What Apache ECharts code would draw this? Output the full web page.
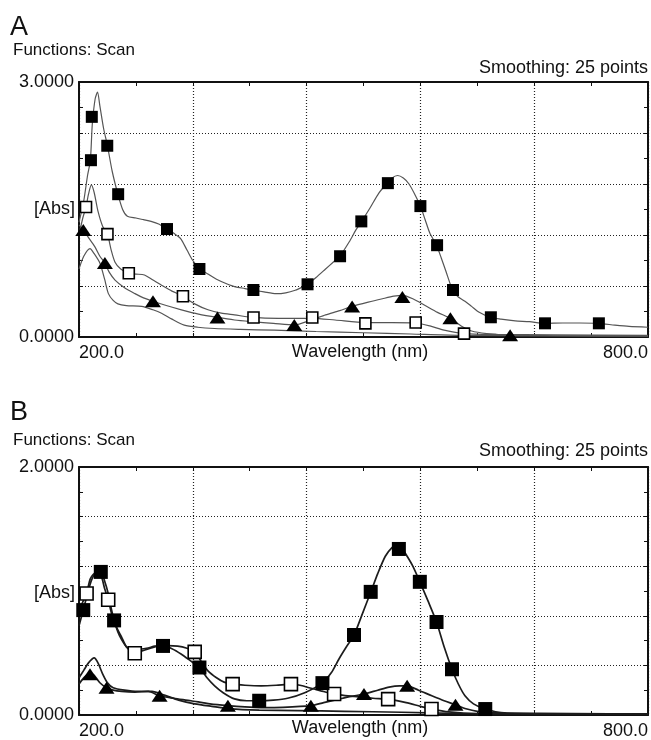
<!DOCTYPE html>
<html>
<head>
<meta charset="utf-8">
<script src="https://cdn.jsdelivr.net/npm/echarts@6/dist/echarts.min.js"></script>
<style>
  html, body { margin: 0; padding: 0; background: #fff; }
  #chart { width: 651px; height: 740px; }
</style>
</head>
<body>
<div id="chart"></div>
<script>
// Panel A: [wavelength nm, absorbance]
const aFilledCurve = [[200,1.35],[205,1.6],[209,1.9],[212,2.08],[214,2.5],[217,2.8],[219.5,2.88],[222,2.72],[226,2.45],[230,2.25],[235,1.95],[241,1.68],[246,1.5],[251,1.42],[260,1.4],[268,1.38],[276,1.36],[284,1.33],[293,1.27],[300,1.22],[307,1.16],[314,1.02],[320,0.9],[327,0.81],[336,0.74],[345,0.68],[355,0.63],[365,0.59],[375,0.57],[384,0.55],[395,0.53],[408,0.51],[418,0.52],[428,0.55],[436,0.59],[441,0.62],[450,0.7],[460,0.8],[468,0.88],[475,0.95],[485,1.12],[492,1.26],[498,1.36],[507,1.52],[516,1.69],[524,1.8],[530,1.87],[536,1.9],[542,1.87],[548,1.8],[554,1.68],[560,1.54],[565,1.38],[570,1.22],[577,1.08],[582,0.93],[587,0.77],[594,0.55],[600,0.47],[607,0.42],[614,0.36],[622,0.29],[634,0.23],[645,0.21],[660,0.19],[675,0.18],[691,0.16],[710,0.165],[728,0.165],[748,0.16],[765,0.14],[780,0.125],[800,0.115]];
const aFilledMarks = [[212.6,2.08],[213.5,2.59],[229.8,2.25],[241.3,1.68],[292.8,1.27],[327,0.8],[383.9,0.553],[441,0.62],[475.3,0.95],[497.7,1.36],[525.7,1.81],[560,1.54],[577.6,1.08],[594.4,0.553],[634.3,0.232],[691.4,0.161],[748.2,0.161]];

const aOpenCurve = [[200,1.2],[204,1.4],[207.4,1.53],[210,1.68],[213,1.79],[216,1.7],[220,1.48],[225,1.3],[230,1.21],[234,1.02],[238,0.88],[244,0.8],[252.5,0.75],[260,0.74],[269,0.73],[278,0.67],[287,0.61],[298,0.54],[309.6,0.48],[322,0.39],[336,0.32],[350,0.28],[364,0.26],[384,0.23],[410,0.22],[446,0.22],[470,0.2],[502,0.17],[530,0.17],[555,0.165],[570,0.13],[585,0.08],[606,0.04],[640,0.03],[700,0.025],[800,0.02]];
const aOpenMarks = [[207.4,1.53],[230,1.21],[252.5,0.75],[309.6,0.48],[384,0.23],[446,0.23],[502,0.16],[555,0.17],[606,0.04]];

const aTriCurve = [[200,1.32],[204.5,1.26],[210,1.17],[216.8,1.06],[222,0.95],[227.3,0.87],[232,0.76],[238,0.67],[248,0.58],[259,0.51],[268,0.46],[278,0.42],[292,0.37],[308,0.32],[326,0.27],[346,0.23],[364,0.2],[383,0.18],[405,0.16],[427,0.14],[445,0.2],[460,0.26],[475,0.31],[488,0.36],[505,0.41],[520,0.45],[532,0.48],[541,0.49],[552,0.45],[565,0.37],[578,0.29],[591.6,0.22],[603,0.13],[614,0.07],[630,0.04],[655,0.02],[700,0.015],[800,0.01]];
const aTriMarks = [[204.5,1.26],[227.3,0.87],[278,0.42],[346,0.23],[427,0.14],[488,0.36],[541,0.47],[591.6,0.22],[654.6,0.02]];

const aBaseCurve = [[200,0.8],[205,0.95],[211.6,1.04],[216,0.98],[222,0.87],[227,0.68],[231,0.51],[236,0.43],[241,0.39],[250,0.37],[266,0.36],[278,0.32],[287,0.28],[298,0.21],[311,0.14],[325,0.115],[343,0.1],[370,0.09],[406,0.08],[450,0.065],[500,0.05],[550,0.035],[600,0.02],[700,0.012],[800,0.01]];

// Panel B
const bFilledCurve = [[200,0.72],[204.5,0.846],[209,0.98],[213.3,1.09],[218,1.15],[223,1.16],[227,1.08],[230.8,0.98],[234,0.86],[237,0.763],[241,0.67],[244.8,0.61],[250,0.55],[257,0.517],[265,0.53],[272.8,0.54],[280,0.555],[288.6,0.557],[298,0.535],[308,0.49],[317,0.44],[327,0.383],[335,0.3],[343,0.235],[352,0.18],[364,0.13],[377,0.115],[390,0.115],[405,0.12],[420,0.135],[438,0.18],[456,0.255],[466,0.34],[474,0.45],[482,0.55],[490,0.645],[499,0.82],[507.6,0.99],[515,1.14],[523,1.28],[530,1.35],[535,1.37],[540,1.35],[546,1.28],[552,1.2],[559.4,1.074],[568,0.92],[577,0.75],[585,0.55],[593.3,0.369],[600,0.25],[607,0.155],[616,0.09],[628.4,0.048],[645,0.02],[680,0.01],[800,0.008]];
const bFilledMarks = [[204.5,0.846],[223,1.154],[237,0.763],[288.6,0.557],[327,0.383],[390,0.115],[456.7,0.257],[490,0.645],[507.6,0.993],[537.3,1.339],[559.4,1.074],[577,0.75],[593.3,0.369],[628.4,0.048]];

const bOpenCurve = [[200,0.85],[208,0.98],[212,1.1],[218,1.15],[223,1.13],[227,1.02],[230.8,0.93],[235,0.8],[240,0.7],[244.8,0.63],[250,0.55],[258.8,0.5],[268,0.52],[276,0.54],[283,0.555],[294,0.56],[304,0.555],[313,0.54],[322,0.509],[329,0.43],[336,0.356],[345,0.3],[353,0.265],[362,0.249],[375,0.24],[392,0.235],[408,0.24],[423.5,0.249],[433,0.24],[442.7,0.22],[455,0.195],[469,0.169],[490,0.15],[510,0.135],[526,0.128],[545,0.1],[560,0.07],[571.7,0.048],[590,0.025],[620,0.012],[800,0.008]];
const bOpenMarks = [[208,0.98],[230.8,0.93],[258.8,0.498],[322,0.509],[362,0.249],[423.5,0.249],[469,0.169],[526,0.128],[571.7,0.048]];

const bTriCurve = [[200,0.25],[205,0.3],[211.6,0.34],[216,0.32],[222,0.26],[229,0.22],[236,0.2],[245,0.19],[259,0.185],[273,0.19],[285,0.155],[300,0.135],[318,0.115],[338,0.09],[357,0.075],[375,0.065],[392,0.06],[415,0.062],[444.5,0.075],[458,0.1],[474,0.128],[487,0.15],[500.5,0.169],[515,0.2],[527,0.225],[538,0.235],[546,0.235],[558,0.2],[572,0.155],[585,0.115],[597,0.083],[608,0.05],[620,0.03],[650,0.015],[800,0.008]];
const bTriMarks = [[211.6,0.329],[229,0.22],[285,0.155],[357,0.075],[444.5,0.075],[500.5,0.169],[546,0.235],[597,0.083]];

const bBaseCurve = [[200,0.3],[205,0.36],[210,0.42],[216,0.46],[220,0.42],[225,0.33],[230,0.26],[236,0.22],[248,0.2],[262,0.19],[277,0.19],[290,0.16],[305,0.12],[322,0.09],[340,0.07],[360,0.05],[390,0.04],[430,0.035],[480,0.03],[540,0.022],[600,0.012],[700,0.008],[800,0.006]];

// axis ranges and tick labels
const xRange = [200, 800];
const xStep = 120;
const yMaxA = 3;
const yMaxB = 2;
const xEndLabels = ["200.0", "800.0"];

const FONT = "Liberation Sans";
const INK = "#111";

const chart = echarts.init(document.getElementById("chart"), null, { renderer: "canvas" });

function xAxisFor(gridIndex, bottom) {
    return {
        type: "value",
        gridIndex: gridIndex,
        position: bottom ? "bottom" : "top",
        min: xRange[0],
        max: xRange[1],
        interval: xStep,
        axisLine: { show: true, onZero: false, lineStyle: { color: INK, width: 2 } },
        axisTick: { show: true, inside: true, length: 4, lineStyle: { color: INK } },
        minorTick: { show: true, splitNumber: 2, length: 4, lineStyle: { color: INK } },
        axisLabel: {
            show: bottom,
            fontFamily: FONT,
            fontSize: 18,
            color: INK,
            margin: 7,
            alignMinLabel: "left",
            alignMaxLabel: "right",
            formatter: function (v) {
                if (v === xRange[0]) return xEndLabels[0];
                if (v === xRange[1]) return xEndLabels[1];
                return "";
            }
        },
        splitLine: {
            show: bottom,
            lineStyle: { color: "#222", width: 1.2, type: [1, 2] }
        }
    };
}

function yAxisFor(gridIndex, max, left) {
    return {
        type: "value",
        gridIndex: gridIndex,
        position: left ? "left" : "right",
        min: 0,
        max: max,
        interval: max / 5,
        axisLine: { show: true, onZero: false, lineStyle: { color: INK, width: 2 } },
        axisTick: { show: true, inside: true, length: 4, lineStyle: { color: INK } },
        minorTick: { show: true, splitNumber: 2, length: 4, lineStyle: { color: INK } },
        axisLabel: {
            show: left,
            fontFamily: FONT,
            fontSize: 18,
            color: INK,
            margin: 5,
            formatter: function (v) {
                if (Math.abs(v) < 1e-9 || Math.abs(v - max) < 1e-9) return v.toFixed(4);
                return "";
            }
        },
        splitLine: {
            show: left,
            lineStyle: { color: "#222", width: 1.2, type: [1, 2] }
        }
    };
}

function curve(data, axis, color, width) {
    return {
        type: "line",
        data: data,
        xAxisIndex: axis,
        yAxisIndex: axis,
        showSymbol: false,
        smooth: 0.25,
        lineStyle: { color: color, width: width },
        silent: true,
        z: 2
    };
}

function marks(data, axis, kind, size) {
    const base = {
        type: "scatter",
        data: data,
        xAxisIndex: axis,
        yAxisIndex: axis,
        silent: true,
        z: 5
    };
    if (kind === "filled") {
        base.symbol = "rect";
        base.symbolSize = size;
        base.itemStyle = { color: "#000", borderColor: "#000", borderWidth: 0, opacity: 1 };
    } else if (kind === "open") {
        base.symbol = "rect";
        base.symbolSize = size - 1;
        base.itemStyle = { color: "#fff", borderColor: "#000", borderWidth: 1.6, opacity: 1 };
    } else {
        base.symbol = "triangle";
        base.symbolSize = [size + 4, size];
        base.itemStyle = { color: "#000", opacity: 1 };
    }
    return base;
}

function text(str, x, y, size, align, vAlign) {
    return {
        type: "text",
        x: x,
        y: y,
        silent: true,
        style: {
            text: str,
            fontFamily: FONT,
            fontSize: size,
            fill: INK,
            align: align || "left",
            verticalAlign: vAlign || "top"
        }
    };
}

const lineA = "#555";
const lineB = "#1c1c1c";

const option = {
    animation: false,
    backgroundColor: "#fff",
    grid: [
        { left: 79, top: 82, width: 571, height: 255 },
        { left: 79, top: 467, width: 571, height: 249 }
    ],
    xAxis: [
        xAxisFor(0, true),
        xAxisFor(1, true),
        xAxisFor(0, false),
        xAxisFor(1, false)
    ],
    yAxis: [
        yAxisFor(0, yMaxA, true),
        yAxisFor(1, yMaxB, true),
        yAxisFor(0, yMaxA, false),
        yAxisFor(1, yMaxB, false)
    ],
    graphic: [
        text("A", 10, 14, 27),
        text("Functions: Scan", 13, 42, 17),
        text("Smoothing: 25 points", 648, 59, 18, "right"),
        text("[Abs]", 75, 209, 18, "right", "middle"),
        text("Wavelength (nm)", 360, 352, 18, "center", "middle"),
        text("B", 10, 399, 27),
        text("Functions: Scan", 13, 432, 17),
        text("Smoothing: 25 points", 648, 442, 18, "right"),
        text("[Abs]", 75, 593, 18, "right", "middle"),
        text("Wavelength (nm)", 360, 728, 18, "center", "middle")
    ],
    series: [
        curve(aBaseCurve, 0, lineA, 1.2),
        curve(aTriCurve, 0, lineA, 1.2),
        curve(aOpenCurve, 0, lineA, 1.2),
        curve(aFilledCurve, 0, lineA, 1.2),
        marks(aTriMarks, 0, "tri", 12),
        marks(aOpenMarks, 0, "open", 12),
        marks(aFilledMarks, 0, "filled", 12),

        curve(bBaseCurve, 1, lineB, 1.7),
        curve(bTriCurve, 1, lineB, 1.7),
        curve(bOpenCurve, 1, lineB, 1.7),
        curve(bFilledCurve, 1, lineB, 1.7),
        marks(bTriMarks, 1, "tri", 12),
        marks(bOpenMarks, 1, "open", 14),
        marks(bFilledMarks, 1, "filled", 14)
    ]
};

chart.setOption(option, true);
</script>
</body>
</html>
